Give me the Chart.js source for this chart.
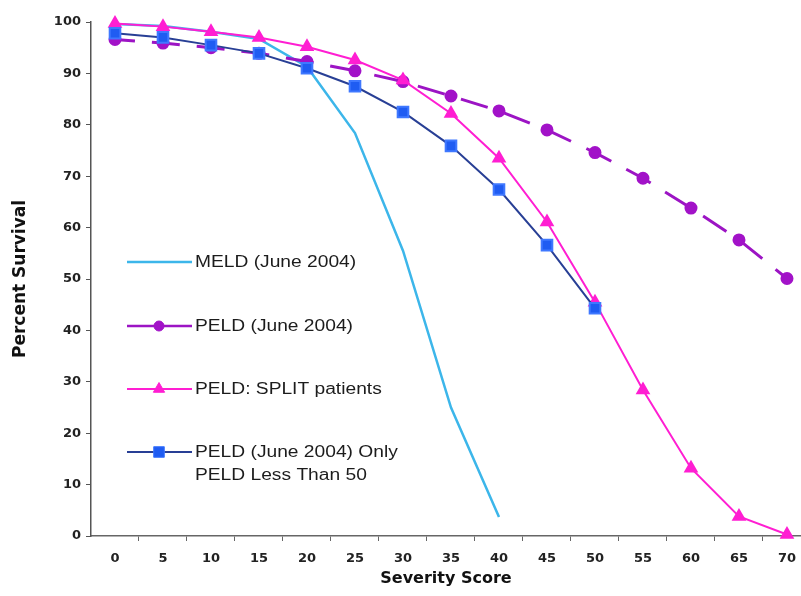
<!DOCTYPE html>
<html>
<head>
<meta charset="utf-8">
<script src="https://cdn.jsdelivr.net/npm/chart.js@4.4.1/dist/chart.umd.min.js"></script>
<style>
  html, body { margin: 0; padding: 0; background: #fff; overflow: hidden; }
</style>
</head>
<body>
<canvas id="survivalChart" width="801" height="596"></canvas>
<script>
// datos
var categories = [0, 5, 10, 15, 20, 25, 30, 35, 40, 45, 50, 55, 60, 65, 70];
var meld = [99.6, 99.2, 98.1, 96.7, 91.3, 78.4, 55.5, 25.0, 3.7];
var peld = [96.6, 95.9, 95.0, 93.9, 92.3, 90.5, 88.4, 85.6, 82.7, 79.0, 74.6, 69.6, 63.8, 57.6, 50.1];
var peldSplit = [99.7, 99.1, 98.1, 97.0, 95.2, 92.6, 88.7, 82.2, 73.5, 61.1, 45.5, 28.4, 13.2, 3.8, 0.3];
var peldUnder50 = [97.8, 97.0, 95.5, 93.9, 91.0, 87.5, 82.5, 75.9, 67.4, 56.6, 44.3];
var yTicks = [0, 10, 20, 30, 40, 50, 60, 70, 80, 90, 100];
var seriesNames = ['MELD (June 2004)', 'PELD (June 2004)', 'PELD: SPLIT patients', ['PELD (June 2004) Only', 'PELD Less Than 50']];

function toPoints(vals) {
  return vals.map(function(v, i) { return { x: categories[i], y: v }; });
}

// leyenda dentro del area del grafico
var legendRows = [
  { ds: 0, y: 262 },
  { ds: 1, y: 326 },
  { ds: 2, y: 389 },
  { ds: 3, y: 452 }
];

var inlineLegend = {
  id: 'inlineLegend',
  afterDraw: function(chart) {
    var ctx = chart.ctx;
    legendRows.forEach(function(row) {
      var ds = chart.data.datasets[row.ds];
      ctx.save();
      ctx.strokeStyle = ds.borderColor;
      ctx.lineWidth = Math.min(ds.borderWidth, 2.5);
      ctx.setLineDash([]);
      ctx.beginPath();
      ctx.moveTo(127, row.y);
      ctx.lineTo(192, row.y);
      ctx.stroke();
      if (ds.pointRadius > 0) {
        ctx.fillStyle = ds.pointBackgroundColor;
        ctx.strokeStyle = ds.pointBorderColor;
        ctx.lineWidth = 1;
        Chart.helpers.drawPoint(ctx, { pointStyle: ds.pointStyle, radius: ds.pointRadius, borderWidth: 1, rotation: 0 }, 159, row.y);
      }
      var lines = [].concat(seriesNames[row.ds]);
      ctx.fillStyle = '#1c1c1c';
      ctx.font = '16px "Liberation Sans", Arial, sans-serif';
      ctx.textBaseline = 'middle';
      lines.forEach(function(t, i) {
        ctx.save();
        ctx.translate(195, row.y + 1 + i * 23);
        ctx.scale(1.2, 1);
        ctx.fillText(t, 0, 0);
        ctx.restore();
      });
      ctx.restore();
    });
  }
};

var tickFont = { family: '"DejaVu Sans", sans-serif', size: 13, weight: 'bold' };

new Chart(document.getElementById('survivalChart').getContext('2d'), {
  type: 'line',
  data: {
    datasets: [{
      label: 'MELD (June 2004)',
      data: toPoints(meld),
      borderColor: '#3cb6ea',
      backgroundColor: '#3cb6ea',
      borderWidth: 2.5,
      pointRadius: 0,
      order: 4
    }, {
      label: 'PELD (June 2004)',
      data: toPoints(peld),
      borderColor: '#9c14c4',
      backgroundColor: '#9c14c4',
      borderWidth: 3,
      borderDash: [28, 17],
      borderDashOffset: 8,
      pointStyle: 'circle',
      pointRadius: 5,
      pointBackgroundColor: '#a212c8',
      pointBorderColor: '#a212c8',
      order: 3
    }, {
      label: 'PELD: SPLIT patients',
      data: toPoints(peldSplit),
      borderColor: '#ff1ed2',
      backgroundColor: '#ff1ed2',
      borderWidth: 2,
      pointStyle: 'triangle',
      pointRadius: 6.5,
      pointBackgroundColor: '#ff1ed2',
      pointBorderColor: '#ff1ed2',
      order: 2
    }, {
      label: 'PELD (June 2004) Only PELD Less Than 50',
      data: toPoints(peldUnder50),
      borderColor: '#283f95',
      backgroundColor: '#1f5cf2',
      borderWidth: 2,
      pointStyle: 'rect',
      pointRadius: 7.5,
      pointBackgroundColor: '#1f5cf2',
      pointBorderColor: '#3f78ff',
      order: 1
    }]
  },
  options: {
    responsive: false,
    animation: false,
    clip: false,
    layout: { autoPadding: false, padding: { top: 22, left: 0, right: 0, bottom: 0 } },
    plugins: {
      legend: { display: false },
      tooltip: { enabled: false }
    },
    scales: {
      x: {
        type: 'linear',
        min: -2.5,
        max: 71.46,
        afterBuildTicks: function(scale) {
          var t = [];
          for (var v = -2.5; v <= 70; v += 2.5) t.push({ value: v });
          scale.ticks = t;
        },
        afterFit: function(scale) {
          scale.height = 60;
          scale.paddingLeft = 0;
          scale.paddingRight = 0;
        },
        ticks: {
          autoSkip: false,
          maxRotation: 0,
          padding: 10,
          color: '#222',
          font: tickFont,
          callback: function(value) {
            return categories.indexOf(value) >= 0 ? String(value) : '';
          }
        },
        grid: {
          drawOnChartArea: false,
          tickLength: 5,
          color: function(c) {
            return (c.tick && categories.indexOf(c.tick.value) >= 0) || (c.tick && c.tick.value < 0) ? 'rgba(0,0,0,0)' : '#666';
          }
        },
        border: { color: '#666', width: 1.5, dash: [4, 3] },
        title: {
          display: true,
          text: 'Severity Score',
          color: '#111',
          font: { family: '"DejaVu Sans", sans-serif', size: 16, weight: 'bold' },
          padding: { top: 0, bottom: 8 }
        }
      },
      y: {
        min: 0,
        max: 100,
        afterBuildTicks: function(scale) {
          scale.ticks = yTicks.map(function(v) { return { value: v }; });
        },
        afterFit: function(scale) { scale.width = 91; },
        ticks: {
          padding: 5,
          color: '#222',
          font: tickFont
        },
        grid: {
          drawOnChartArea: false,
          tickLength: 5,
          color: '#555'
        },
        border: { color: '#555', width: 1.5, dash: [3, 2] },
        title: {
          display: true,
          text: 'Percent Survival',
          color: '#111',
          font: { family: '"DejaVu Sans", sans-serif', size: 17, weight: 'bold' },
          padding: { top: 10, bottom: 0 }
        }
      }
    }
  },
  plugins: [inlineLegend]
});
</script>
</body>
</html>
